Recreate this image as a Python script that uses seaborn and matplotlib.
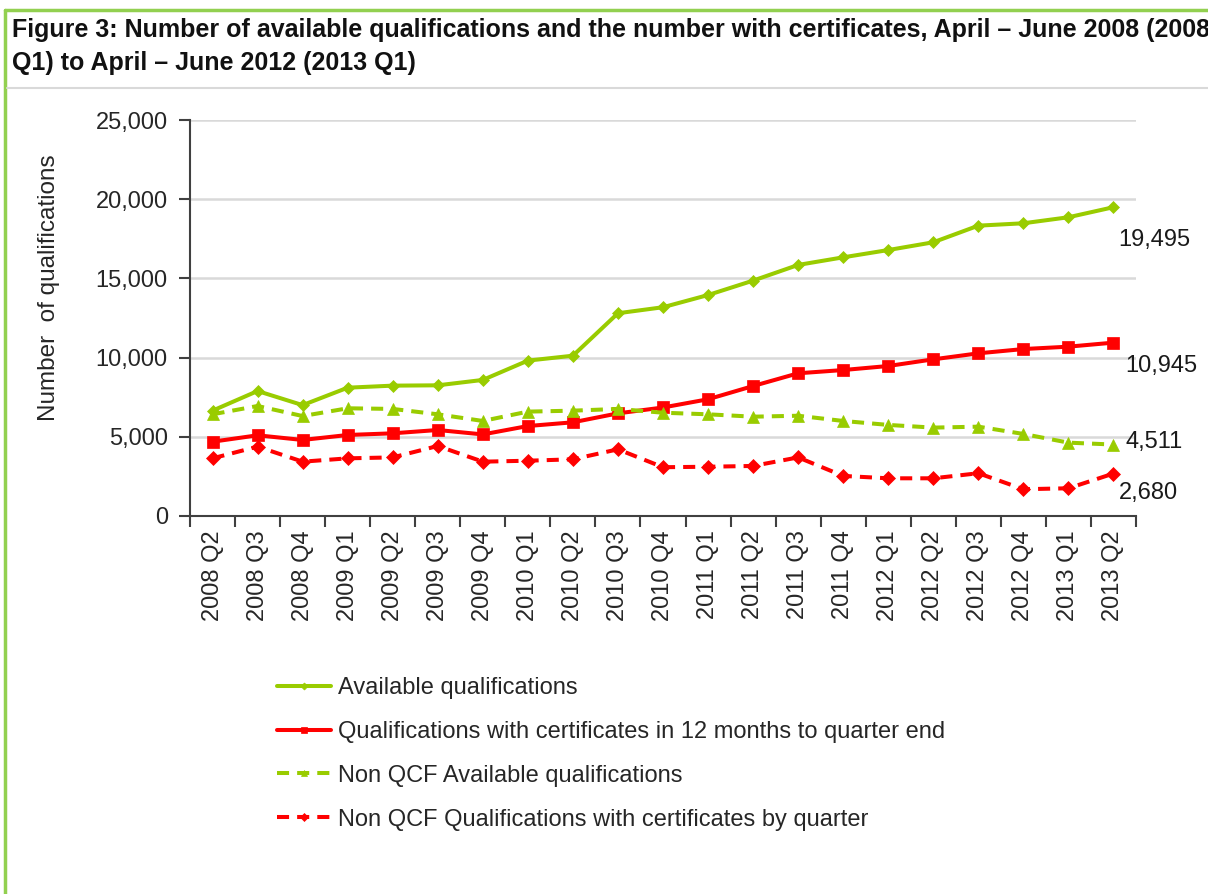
import matplotlib
matplotlib.use("Agg")
import matplotlib.pyplot as plt
import seaborn as sns
import pandas as pd
import numpy as np
from matplotlib.lines import Line2D
from matplotlib.ticker import FixedLocator, FuncFormatter

# quarters on the x axis
quarters = ["2008 Q2", "2008 Q3", "2008 Q4", "2009 Q1", "2009 Q2", "2009 Q3", "2009 Q4",
            "2010 Q1", "2010 Q2", "2010 Q3", "2010 Q4", "2011 Q1", "2011 Q2", "2011 Q3",
            "2011 Q4", "2012 Q1", "2012 Q2", "2012 Q3", "2012 Q4", "2013 Q1", "2013 Q2"]

# values
available = [6650, 7890, 7000, 8100, 8230, 8250, 8590, 9810, 10120, 12800, 13180,
             13950, 14860, 15850, 16330, 16790, 17280, 18330, 18480, 18860, 19495]
certificates_12m = [4690, 5095, 4800, 5115, 5220, 5430, 5150, 5680, 5915, 6480, 6850,
                    7370, 8205, 9010, 9215, 9470, 9890, 10270, 10540, 10690, 10945]
non_qcf_available = [6420, 6945, 6310, 6800, 6760, 6420, 6000, 6590, 6650, 6760, 6520,
                     6420, 6270, 6330, 6000, 5750, 5580, 5640, 5180, 4630, 4511]
non_qcf_cert_quarter = [3640, 4380, 3430, 3640, 3700, 4420, 3430, 3490, 3580, 4210, 3080,
                        3110, 3160, 3700, 2530, 2380, 2380, 2700, 1690, 1750, 2680]

labels = ["Available qualifications",
          "Qualifications with certificates in 12 months to quarter end",
          "Non QCF Available qualifications",
          "Non QCF Qualifications with certificates by quarter"]
end_labels = ["19,495", "10,945", "4,511", "2,680"]

GREEN = "#99CC00"
RED = "#FF0000"

sns.set_style("white")
plt.rcParams["font.family"] = ["Liberation Sans", "DejaVu Sans"]

fig = plt.figure(figsize=(12.08, 8.94), dpi=100)
ax = fig.add_axes([190 / 1208, 1 - 516 / 894, (1136 - 190) / 1208, (516 - 120) / 894])

series = [
    (available, GREEN, "-", "D", 6.5),
    (certificates_12m, RED, "-", "s", 9),
    (non_qcf_available, GREEN, (0, (3, 2)), "^", 9),
    (non_qcf_cert_quarter, RED, (0, (3, 2)), "D", 7),
]

for (vals, color, ls, marker, ms), lab in zip(series, labels):
    df = pd.DataFrame({"quarter": quarters, "value": vals})
    sns.lineplot(data=df, x="quarter", y="value", ax=ax, color=color, linestyle=ls,
                 marker=marker, markersize=ms, markeredgecolor=color,
                 markeredgewidth=0.5, linewidth=2.9, label=lab, sort=False)

# end-of-series value labels
offsets = [(5, -33), (12, -23), (12, 3), (5, -19)]
for (vals, *_), txt, off in zip(series, end_labels, offsets):
    ax.annotate(txt, xy=(len(quarters) - 1, vals[-1]), xytext=off,
                textcoords="offset pixels", ha="left", va="center", fontsize=17,
                color="#1a1a1a")

ax.set_xlim(-0.5, len(quarters) - 0.5)
ax.set_ylim(0, 25000)
ax.set_yticks(np.arange(0, 25001, 5000))
ax.yaxis.set_major_formatter(FuncFormatter(lambda v, p: f"{int(v):,}"))
ax.yaxis.grid(True, color="#D9D9D9", linewidth=1.8)
ax.xaxis.grid(False)

ax.set_xticks(range(len(quarters)))
ax.set_xticklabels(quarters, rotation=90, fontsize=17)
ax.xaxis.set_minor_locator(FixedLocator(np.arange(-0.5, len(quarters), 1.0)))
ax.tick_params(axis="x", which="major", length=0, pad=10)
ax.tick_params(axis="x", which="minor", length=8, width=1.5, color="#404040",
               direction="out", bottom=True)
ax.tick_params(axis="y", which="major", length=8, width=1.5, color="#404040",
               direction="out", left=True, labelsize=17, pad=8)

for side in ["top", "right"]:
    ax.spines[side].set_visible(False)
for side in ["left", "bottom"]:
    ax.spines[side].set_color("#404040")
    ax.spines[side].set_linewidth(1.5)

ax.set_xlabel("")
ax.set_ylabel("Number  of qualifications", fontsize=17.5)
ax.yaxis.set_label_coords(-130 / 946, (516 - 288) / 396)

ax.legend_.remove()
handles, labs = ax.get_legend_handles_labels()
fig.legend(handles, labs, loc="upper left", bbox_to_anchor=(265 / 1208, 1 - 665 / 894),
           frameon=False, fontsize=17, handlelength=2.3, handletextpad=0.3,
           labelspacing=0.93, borderpad=0, markerscale=0.55)

# title and frame decorations
fig.text(12 / 1208, 1 - 18 / 894,
         "Figure 3: Number of available qualifications and the number with certificates, "
         "April \u2013 June 2008 (2008\nQ1) to April \u2013 June 2012 (2013 Q1)",
         ha="left", va="top", fontsize=18, fontweight="bold", linespacing=1.45,
         color="#111111")
fig.add_artist(Line2D([5 / 1208, 1], [1 - 10 / 894] * 2, color="#92D050", linewidth=2.5))
fig.add_artist(Line2D([5 / 1208] * 2, [0, 1 - 10 / 894], color="#92D050", linewidth=2.5))
fig.add_artist(Line2D([7 / 1208, 1], [1 - 88 / 894] * 2, color="#D9D9D9", linewidth=1.5))

fig.savefig("out.png", dpi=100)
